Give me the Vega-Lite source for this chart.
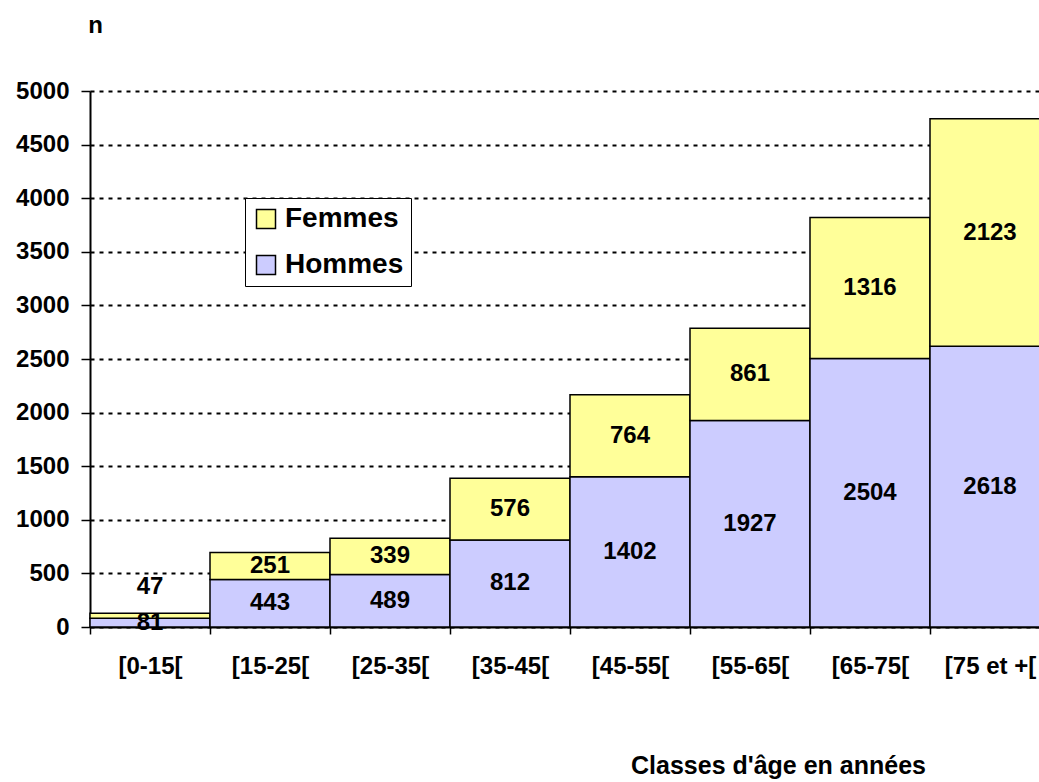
{
  "$schema": "https://vega.github.io/schema/vega-lite/v6.json",
  "autosize": {"type": "none"},
  "padding": {"left": 90, "top": 91, "right": 0, "bottom": 155},
  "width": 960,
  "height": 536,
  "background": "white",
  "config": {
    "font": "Liberation Sans",
    "view": {"stroke": null}
  },
  "data": {
    "values": [
      {"age": "[0-15[", "sexe": "Hommes", "n": 81},
      {"age": "[0-15[", "sexe": "Femmes", "n": 47},
      {"age": "[15-25[", "sexe": "Hommes", "n": 443},
      {"age": "[15-25[", "sexe": "Femmes", "n": 251},
      {"age": "[25-35[", "sexe": "Hommes", "n": 489},
      {"age": "[25-35[", "sexe": "Femmes", "n": 339},
      {"age": "[35-45[", "sexe": "Hommes", "n": 812},
      {"age": "[35-45[", "sexe": "Femmes", "n": 576},
      {"age": "[45-55[", "sexe": "Hommes", "n": 1402},
      {"age": "[45-55[", "sexe": "Femmes", "n": 764},
      {"age": "[55-65[", "sexe": "Hommes", "n": 1927},
      {"age": "[55-65[", "sexe": "Femmes", "n": 861},
      {"age": "[65-75[", "sexe": "Hommes", "n": 2504},
      {"age": "[65-75[", "sexe": "Femmes", "n": 1316},
      {"age": "[75 et +[", "sexe": "Hommes", "n": 2618},
      {"age": "[75 et +[", "sexe": "Femmes", "n": 2123}
    ]
  },
  "transform": [
    {"stack": "n", "groupby": ["age"], "sort": [{"field": "sexe", "order": "descending"}], "as": ["y0", "y1"]},
    {"calculate": "(datum.y0 + datum.y1) / 2", "as": "ymid"}
  ],
  "encoding": {
    "x": {
      "field": "age",
      "type": "nominal",
      "sort": null,
      "scale": {"paddingInner": 0, "paddingOuter": 0},
      "axis": {
        "title": "Classes d'âge en années",
        "titleFont": "Liberation Sans",
        "titleFontSize": 25,
        "titleFontWeight": "bold",
        "titleColor": "black",
        "titleX": 688,
        "titleY": 146,
        "titleAlign": "center",
        "titleBaseline": "alphabetic",
        "labelAngle": 0,
        "labelFontSize": 24,
        "labelFontWeight": "bold",
        "labelColor": "black",
        "labelBaseline": "alphabetic",
        "labelPadding": 39,
        "tickBand": "extent",
        "tickSize": 7,
        "tickColor": "black",
        "tickWidth": 1.5,
        "domainColor": "black",
        "domainWidth": 2,
        "grid": false
      }
    }
  },
  "layer": [
    {
      "mark": {"type": "bar", "stroke": "black", "strokeWidth": 1.5},
      "encoding": {
        "y": {
          "field": "y1",
          "type": "quantitative",
          "scale": {"domain": [0, 5000], "nice": false},
          "axis": {
            "values": [0, 500, 1000, 1500, 2000, 2500, 3000, 3500, 4000, 4500, 5000],
            "format": "d",
            "title": "n",
            "titleAngle": 0,
            "titleX": 5,
            "titleY": -59,
            "titleAlign": "center",
            "titleBaseline": "alphabetic",
            "titleFontSize": 24,
            "titleFontWeight": "bold",
            "titleColor": "black",
            "labelFontSize": 24,
            "labelFontWeight": "bold",
            "labelColor": "black",
            "labelPadding": 12,
            "tickSize": 9,
            "tickColor": "black",
            "tickWidth": 1.5,
            "domainColor": "black",
            "domainWidth": 2,
            "grid": true,
            "gridColor": "black",
            "gridWidth": 2,
            "gridDash": [4, 5]
          }
        },
        "y2": {"field": "y0"},
        "color": {
          "field": "sexe",
          "type": "nominal",
          "scale": {"domain": ["Femmes", "Hommes"], "range": ["#FFFF99", "#CCCCFF"]},
          "legend": {
            "title": null,
            "orient": "none",
            "legendX": 155,
            "legendY": 107,
            "fillColor": "white",
            "strokeColor": "black",
            "padding": 7,
            "symbolType": "square",
            "symbolSize": 361,
            "symbolStrokeColor": "black",
            "symbolStrokeWidth": 1.5,
            "symbolOpacity": 1,
            "labelFontSize": 28,
            "labelFontWeight": "bold",
            "labelColor": "black",
            "labelOffset": 5,
            "rowPadding": 18
          }
        }
      }
    },
    {
      "transform": [{"filter": "!(datum.age == '[0-15[' && datum.sexe == 'Femmes')"}],
      "mark": {"type": "text", "fontSize": 24, "fontWeight": "bold", "color": "black", "baseline": "middle"},
      "encoding": {
        "y": {"field": "ymid", "type": "quantitative"},
        "text": {"field": "n", "type": "quantitative"}
      }
    },
    {
      "transform": [{"filter": "datum.age == '[0-15[' && datum.sexe == 'Femmes'"}],
      "mark": {"type": "text", "fontSize": 24, "fontWeight": "bold", "color": "black", "baseline": "middle", "dy": -29},
      "encoding": {
        "y": {"field": "ymid", "type": "quantitative"},
        "text": {"field": "n", "type": "quantitative"}
      }
    }
  ]
}
